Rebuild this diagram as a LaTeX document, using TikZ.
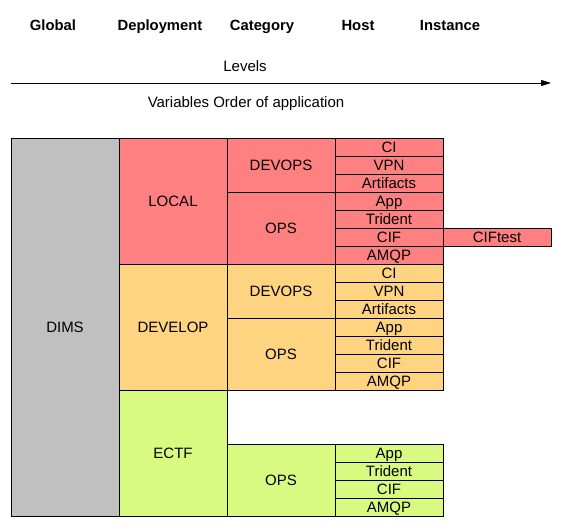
\documentclass[tikz,border=0pt]{standalone}
\usepackage{fontspec}
\setmainfont{Liberation Sans}
\usetikzlibrary{arrows.meta}

\definecolor{dimsgray}{RGB}{192,192,192}
\definecolor{localred}{RGB}{255,128,128}
\definecolor{developorange}{RGB}{255,212,128}
\definecolor{ectfgreen}{RGB}{216,250,128}

\tikzset{
  box/.style={draw, line width=0.9pt, rectangle, inner sep=0pt, minimum width=108pt,
    text height=10.7pt, text depth=0pt, font=\fontsize{15}{17}\selectfont},
  level/.style={anchor=base, inner sep=0pt, font=\fontsize{14.8}{17}\selectfont\bfseries},
  plain/.style={anchor=base, inner sep=0pt, font=\fontsize{15}{17}\selectfont},
}

\begin{document}
\begin{tikzpicture}[x=1pt, y=-1pt]
      \useasboundingbox (0, 0) rectangle (562, 527);

      % levels
      \node[level] (global) at (53, 31) {Global};
      \node[level] (deployment) at (160, 31) {Deployment};
      \node[level] (category) at (262, 31) {Category};
      \node[level] (host) at (358, 31) {Host};
      \node[level] (instance) at (450, 31) {Instance};

      \node[plain] (levels) at (245, 71) {Levels};
      \coordinate (arrowstart) at (11, 83);
      \coordinate (arrowend) at (551, 83);
      \draw[line width=0.9pt, -{Triangle[length=10pt, width=6pt]}] (arrowstart) -- (arrowend);
      \node[plain] (order) at (246, 107) {Variables Order of application};

      % global
      \node[box, fill=dimsgray, minimum height=378pt] (dims) at (65, 327) {DIMS};

      % local
      \node[box, fill=localred, minimum height=126pt] (local) at (173, 201) {LOCAL};
      \node[box, fill=localred, minimum height=54pt] (localdevops) at (281, 165) {DEVOPS};
      \node[box, fill=localred, minimum height=72pt] (localops) at (281, 228) {OPS};
      \foreach \name [count=\i] in {CI, VPN, Artifacts, App, Trident, CIF, AMQP}
        \node[box, fill=localred, minimum height=18pt] (localhost\i) at (389, 129+18*\i) {\name};
      \node[box, fill=localred, minimum height=18pt] (ciftest) at (497, 237) {CIFtest};

      % develop
      \node[box, fill=developorange, minimum height=126pt] (develop) at (173, 327) {DEVELOP};
      \node[box, fill=developorange, minimum height=54pt] (developdevops) at (281, 291) {DEVOPS};
      \node[box, fill=developorange, minimum height=72pt] (developops) at (281, 354) {OPS};
      \foreach \name [count=\i] in {CI, VPN, Artifacts, App, Trident, CIF, AMQP}
        \node[box, fill=developorange, minimum height=18pt] (develophost\i) at (389, 255+18*\i) {\name};

      % ectf
      \node[box, fill=ectfgreen, minimum height=126pt] (ectf) at (173, 453) {ECTF};
      \node[box, fill=ectfgreen, minimum height=72pt] (ectfops) at (281, 480) {OPS};
      \foreach \name [count=\i] in {App, Trident, CIF, AMQP}
        \node[box, fill=ectfgreen, minimum height=18pt] (ectfhost\i) at (389, 435+18*\i) {\name};
    \end{tikzpicture}
\end{document}
